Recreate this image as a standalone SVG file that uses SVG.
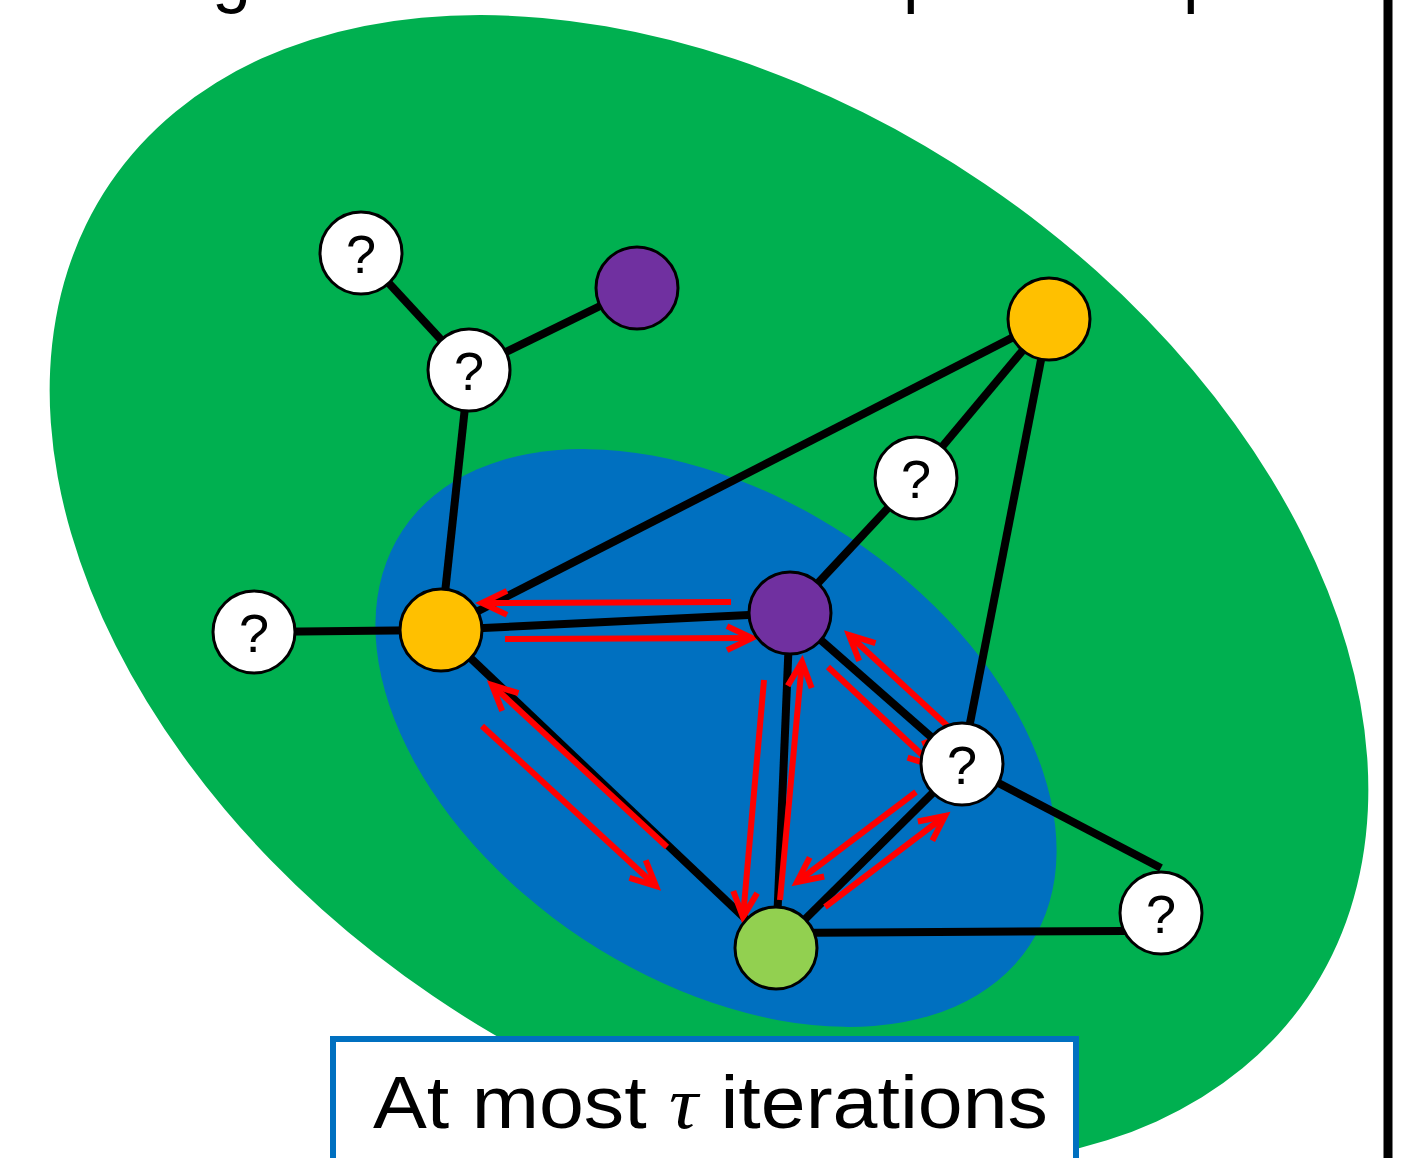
<svg xmlns="http://www.w3.org/2000/svg" width="1413" height="1158" viewBox="0 0 1413 1158">
<defs>
<style>
.edge{stroke:#000;stroke-width:8;fill:none}
.red{stroke:#FF0000;stroke-width:6;fill:none;marker-end:url(#ah)}
.node{stroke:#000;stroke-width:3}
.q{font-family:"Liberation Sans",Arial,sans-serif;font-size:54px;text-anchor:middle;fill:#000}
.frag{font-family:"Liberation Sans",Arial,sans-serif;font-size:70px;fill:#000}
</style>
<marker id="ah" markerUnits="userSpaceOnUse" markerWidth="40" markerHeight="40" viewBox="-30 -20 40 40" refX="0" refY="0" orient="auto">
<path d="M-25,-12 L0,0 L-25,12" fill="none" stroke="#FF0000" stroke-width="6"/>
</marker>
</defs>
<rect width="1413" height="1158" fill="#fff"/>
<g id="title-fragments">
<text class="frag" x="212" y="-1">g</text>
<text class="frag" x="903" y="-1">p</text>
<text class="frag" x="1183" y="-1">p</text>
</g>
<line id="divider" x1="1388" y1="0" x2="1388" y2="1158" stroke="#000" stroke-width="9"/>
<ellipse id="outer-region" cx="709" cy="590" rx="724" ry="491" transform="rotate(34.2 709 590)" fill="#00B050"/>
<ellipse id="inner-region" cx="716" cy="738" rx="376" ry="241" transform="rotate(33.5 716 738)" fill="#0070C0"/>
<g id="connectors">
<line class="edge" x1="361" y1="253" x2="469" y2="370"/>
<line class="edge" x1="469" y1="370" x2="637" y2="288"/>
<line class="edge" x1="469" y1="370" x2="441" y2="630"/>
<line class="edge" x1="441" y1="630" x2="1049" y2="319"/>
<line class="edge" x1="254" y1="632" x2="441" y2="630"/>
<line class="edge" x1="441" y1="630" x2="790" y2="613"/>
<line class="edge" x1="441" y1="630" x2="776" y2="948"/>
<line class="edge" x1="790" y1="613" x2="916" y2="478"/>
<line class="edge" x1="916" y1="478" x2="1049" y2="319"/>
<line class="edge" x1="1049" y1="319" x2="962" y2="764"/>
<line class="edge" x1="790" y1="613" x2="962" y2="764"/>
<line class="edge" x1="790" y1="613" x2="776" y2="948"/>
<line class="edge" x1="776" y1="948" x2="962" y2="764"/>
<line class="edge" x1="962" y1="764" x2="1161" y2="868"/>
<line class="edge" x1="776" y1="933" x2="1125" y2="931"/>
<line class="red" x1="731" y1="602" x2="482" y2="603"/>
<line class="red" x1="505" y1="639" x2="752" y2="638"/>
<line class="red" x1="667" y1="847" x2="492" y2="685"/>
<line class="red" x1="482" y1="726" x2="656" y2="886"/>
<line class="red" x1="764" y1="680" x2="743" y2="917"/>
<line class="red" x1="780" y1="900" x2="802" y2="662"/>
<line class="red" x1="955" y1="733" x2="849" y2="635"/>
<line class="red" x1="828" y1="667" x2="934" y2="766"/>
<line class="red" x1="916" y1="792" x2="797" y2="882"/>
<line class="red" x1="825" y1="907" x2="945" y2="816"/>
</g>
<g id="n1"><circle class="node" cx="361" cy="253" r="41" fill="#fff"/><text class="q" x="361" y="273">?</text></g>
<g id="n2"><circle class="node" cx="637" cy="288" r="41" fill="#7030A0"/></g>
<g id="n3"><circle class="node" cx="469" cy="370" r="41" fill="#fff"/><text class="q" x="469" y="390">?</text></g>
<g id="n4"><circle class="node" cx="1049" cy="319" r="41" fill="#FFC000"/></g>
<g id="n5"><circle class="node" cx="916" cy="478" r="41" fill="#fff"/><text class="q" x="916" y="498">?</text></g>
<g id="n6"><circle class="node" cx="254" cy="632" r="41" fill="#fff"/><text class="q" x="254" y="652">?</text></g>
<g id="n7"><circle class="node" cx="441" cy="630" r="41" fill="#FFC000"/></g>
<g id="n8"><circle class="node" cx="790" cy="613" r="41" fill="#7030A0"/></g>
<g id="n9"><circle class="node" cx="962" cy="764" r="41" fill="#fff"/><text class="q" x="962" y="784">?</text></g>
<g id="n10"><circle class="node" cx="1161" cy="913" r="41" fill="#fff"/><text class="q" x="1161" y="933">?</text></g>
<g id="n11"><circle class="node" cx="776" cy="948" r="41" fill="#92D050"/></g>
<g id="label">
<rect x="333" y="1039" width="743" height="140" fill="#fff" stroke="#0070C0" stroke-width="6"/>
<text x="373" y="1128" font-family="Liberation Sans, Arial, sans-serif" font-size="74" fill="#000" textLength="675" lengthAdjust="spacingAndGlyphs">At most <tspan font-family="Liberation Serif, serif" font-style="italic">τ</tspan> iterations</text>
</g>
</svg>
